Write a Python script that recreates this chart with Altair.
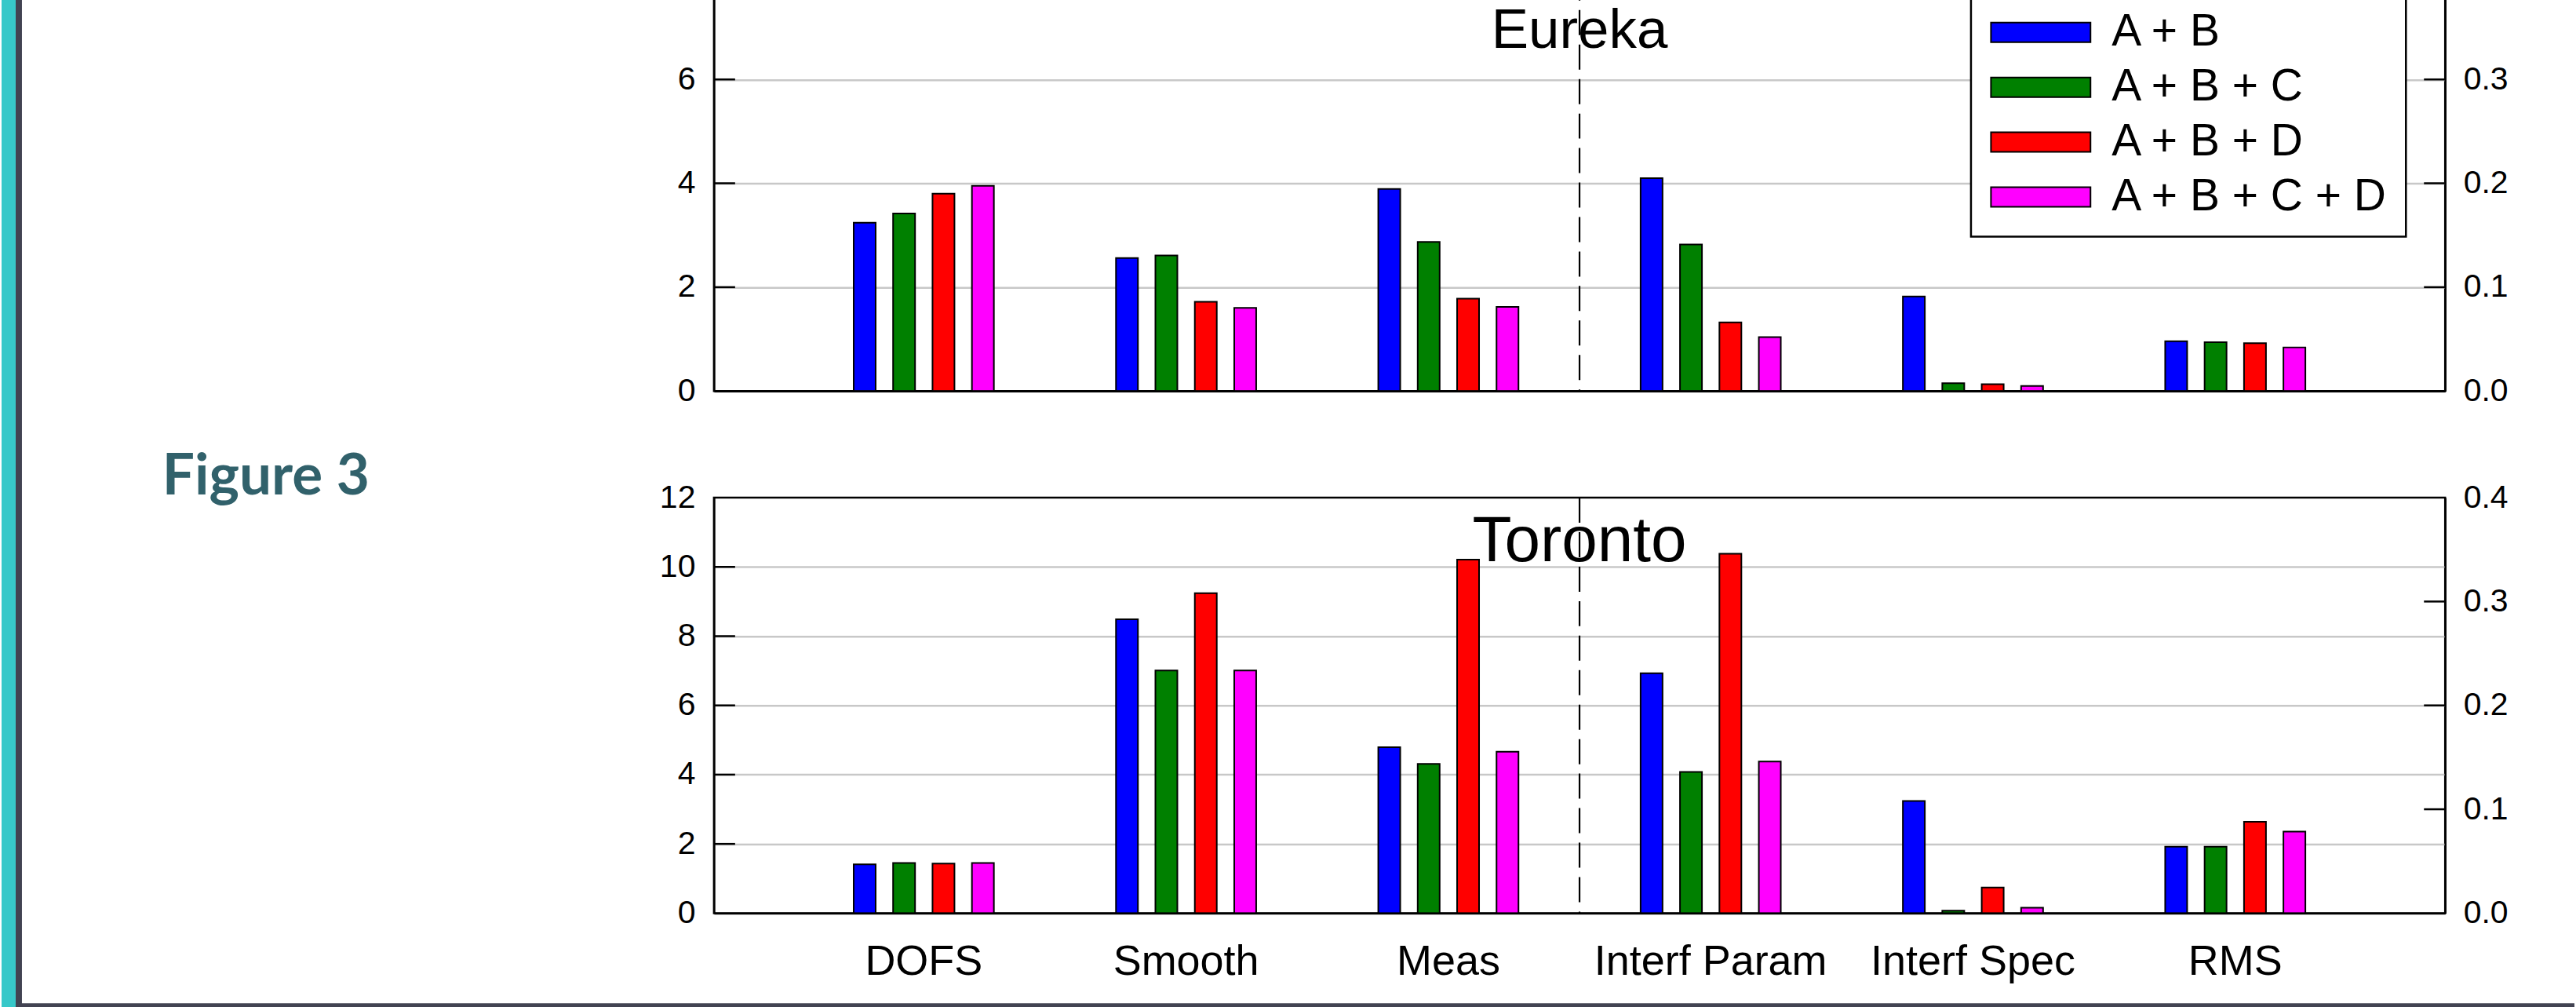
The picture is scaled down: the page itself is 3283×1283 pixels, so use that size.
import altair as alt
import pandas as pd

# ---- data -----------------------------------------------------------------
categories = ["DOFS", "Smooth", "Meas", "Interf Param", "Interf Spec", "RMS"]
left_categories = categories[:3]    # read on the left axis
right_categories = categories[3:]   # read on the right axis
series = ["A + B", "A + B + C", "A + B + D", "A + B + C + D"]
series_colors = ["#0000ff", "#008000", "#ff0000", "#ff00ff"]

eureka_ab = [3.24, 2.56, 3.89, 0.205, 0.091, 0.048]
eureka_abc = [3.42, 2.61, 2.87, 0.141, 0.0075, 0.047]
eureka_abd = [3.80, 1.72, 1.78, 0.066, 0.0065, 0.046]
eureka_abcd = [3.95, 1.60, 1.62, 0.052, 0.0048, 0.042]

toronto_ab = [1.41, 8.49, 4.79, 0.231, 0.108, 0.064]
toronto_abc = [1.45, 7.01, 4.31, 0.136, 0.0024, 0.064]
toronto_abd = [1.43, 9.24, 10.21, 0.346, 0.0247, 0.088]
toronto_abcd = [1.45, 7.01, 4.66, 0.146, 0.0052, 0.0785]

eureka_left_ticks = [0, 2, 4, 6]
eureka_right_ticks = [0.0, 0.1, 0.2, 0.3]
toronto_left_ticks = [0, 2, 4, 6, 8, 10, 12]
toronto_right_ticks = [0.0, 0.1, 0.2, 0.3, 0.4]

divider_category = ["Interf Param"]
figure_label = ["Figure 3"]

# ---- styling --------------------------------------------------------------
W, H = 2209, 530
TICK_LEN = 27
FONT = "Liberation Sans, Arial, Helvetica, sans-serif"
GRID = "#c8c8c8"
LINE_W = 2.5

X_PAD_INNER, X_PAD_OUTER = 0.165, 0.3825
x_scale = alt.Scale(domain=categories, paddingInner=X_PAD_INNER,
                    paddingOuter=X_PAD_OUTER)
offset_scale = alt.Scale(domain=series, paddingInner=0.443, paddingOuter=1)
color_scale = alt.Scale(domain=series, range=series_colors)
# the divider sits half-way across the gap in front of its band
X_STEP = W / (len(categories) - X_PAD_INNER + 2 * X_PAD_OUTER)
DIVIDER_SHIFT = -X_PAD_INNER * X_STEP / 2


def long_table(per_series):
    rows = []
    for s, vals in zip(series, per_series):
        for c, v in zip(categories, vals):
            rows.append({"category": c, "series": s, "value": v})
    return pd.DataFrame(rows)


def panel(name, per_series, left_max, right_max, left_ticks, right_ticks,
          show_x_labels, legend, title_size, title_y, extra_layers=()):
    df = long_table(per_series)
    left_df = df[df["category"].isin(left_categories)]
    right_df = df[df["category"].isin(right_categories)]

    x_axis = alt.Axis(
        title=None, labels=show_x_labels, ticks=False, domain=True,
        domainColor="black", domainWidth=LINE_W, labelFont=FONT,
        labelFontSize=54, labelColor="black", labelPadding=35,
        labelAngle=0, labelLimit=1000, labelOverlap=False, grid=False,
        zindex=1,
    )
    x_enc = alt.X("category:N", scale=x_scale, sort=categories, axis=x_axis)
    off_enc = alt.XOffset("series:N", scale=offset_scale, sort=series)

    left_scale = alt.Scale(domain=[0, left_max], nice=False, zero=True)
    right_scale = alt.Scale(domain=[0, right_max], nice=False, zero=True)

    left_axis = alt.Axis(
        orient="left", values=left_ticks, format="d", title=None,
        grid=True, gridColor=GRID, gridWidth=LINE_W,
        gridOpacity=alt.condition(
            f"datum.value == 0 || datum.value == {left_max}",
            alt.value(0), alt.value(1)),
        ticks=False, domain=True, domainColor="black", domainWidth=LINE_W,
        labelFont=FONT, labelFontSize=41, labelColor="black", labelPadding=24,
    )
    right_axis = alt.Axis(
        orient="right", values=right_ticks, format=".1f", title=None,
        grid=False, ticks=False, domain=True, domainColor="black",
        domainWidth=LINE_W, labelFont=FONT, labelFontSize=41,
        labelColor="black", labelPadding=23,
    )

    bar = dict(stroke="black", strokeWidth=2)
    left_bars = alt.Chart(left_df).mark_bar(**bar).encode(
        x=x_enc, xOffset=off_enc,
        y=alt.Y("value:Q", scale=left_scale, axis=left_axis),
        color=alt.Color("series:N", scale=color_scale, sort=series,
                        legend=legend),
    )
    right_bars = alt.Chart(right_df).mark_bar(**bar).encode(
        x=x_enc, xOffset=off_enc,
        y=alt.Y("value:Q", scale=right_scale, axis=right_axis),
        color=alt.Color("series:N", scale=color_scale, sort=series,
                        legend=None),
    )

    # inward tick marks on both value axes
    inner_left = [t for t in left_ticks if 0 < t < left_max]
    inner_right = [t for t in right_ticks if 0 < t < right_max]
    left_tick_marks = alt.Chart(pd.DataFrame({"tick": inner_left})).mark_rule(
        color="black", strokeWidth=LINE_W).encode(
        y=alt.Y("tick:Q", scale=left_scale, axis=None),
        x=alt.value(0), x2=alt.value(TICK_LEN),
    )
    right_tick_marks = alt.Chart(pd.DataFrame({"tick": inner_right})).mark_rule(
        color="black", strokeWidth=LINE_W).encode(
        y=alt.Y("tick:Q", scale=right_scale, axis=None),
        x=alt.value(W - TICK_LEN), x2=alt.value(W),
    )

    # dashed divider between the left-axis and right-axis groups
    divider = alt.Chart(pd.DataFrame({"category": divider_category})).mark_rule(
        color="black", strokeWidth=2.2, strokeDash=[32, 12],
        xOffset=DIVIDER_SHIFT).encode(
        x=alt.X("category:N", scale=x_scale, sort=categories, axis=x_axis,
                bandPosition=0),
    )

    site_title = alt.Chart(pd.DataFrame({"site": [name]})).mark_text(
        font=FONT, fontSize=title_size, align="center",
        baseline="alphabetic", color="black").encode(
        text="site:N", x=alt.value(W / 2), y=alt.value(title_y),
    )

    layers = [left_bars, right_bars, left_tick_marks, right_tick_marks,
              site_title, divider, *extra_layers]
    return alt.layer(*layers).resolve_scale(y="independent").properties(
        width=W, height=H)


legend = alt.Legend(
    title=None, orient="none", legendX=1604, legendY=22,
    symbolType="M-2.54,-0.5H2.54V0.5H-2.54Z", symbolSize=2500,
    symbolStrokeColor="black", symbolStrokeWidth=2, symbolOffset=38.5,
    labelOffset=62, labelFont=FONT, labelFontSize=57, labelColor="black",
    labelLimit=1000, rowPadding=12, padding=22,
    strokeColor="black", fillColor="white",
)

# slide frame and caption around the figure
one_row = pd.DataFrame({"label": figure_label})
teal_strip = alt.Chart(one_row).mark_rect(color="#37c8c9").encode(
    x=alt.value(-909), x2=alt.value(-891), y=alt.value(-700), y2=alt.value(700))
dark_strip = alt.Chart(one_row).mark_rect(color="#424352").encode(
    x=alt.value(-891), x2=alt.value(-883), y=alt.value(-700), y2=alt.value(700))
bottom_strip = alt.Chart(one_row).mark_rect(color="#424352").encode(
    x=alt.value(-891), x2=alt.value(2374), y=alt.value(645), y2=alt.value(700))
caption = alt.Chart(one_row).mark_text(
    font="Lato", fontWeight="bold", fontSize=73, color="#31616b",
    align="left", baseline="alphabetic").encode(
    text="label:N", x=alt.value(-704), y=alt.value(-4))

eureka = panel(
    "Eureka", [eureka_ab, eureka_abc, eureka_abd, eureka_abcd],
    8, 0.4, eureka_left_ticks, eureka_right_ticks,
    show_x_labels=False, legend=legend, title_size=71, title_y=92)
toronto = panel(
    "Toronto", [toronto_ab, toronto_abc, toronto_abd, toronto_abcd],
    12, 0.4, toronto_left_ticks, toronto_right_ticks,
    show_x_labels=True, legend=None, title_size=82, title_y=81,
    extra_layers=(teal_strip, dark_strip, bottom_strip, caption))

chart = alt.vconcat(eureka, toronto, spacing=136, bounds="flush").resolve_scale(
    color="independent").resolve_legend(color="independent").properties(
    padding={"left": 0, "top": -68, "right": 0, "bottom": 0},
    background="white",
).configure_view(
    stroke="black", strokeWidth=LINE_W,
).configure_legend(
    strokeWidth=LINE_W,
)

chart.save("out.html", embed_options={"renderer": "svg", "actions": False})
